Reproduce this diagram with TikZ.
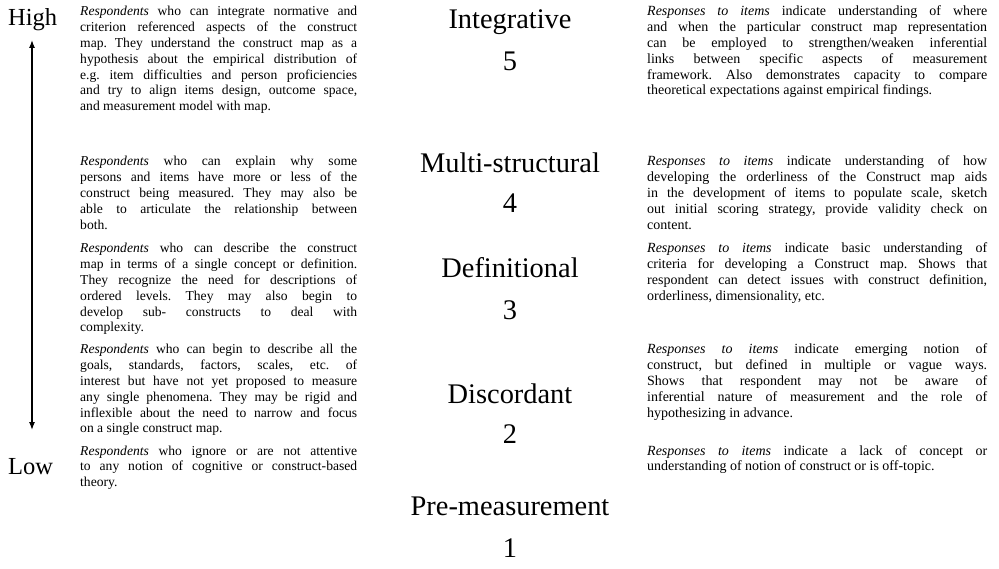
\documentclass[tikz,border=0pt]{standalone}
\usepackage{fontspec}
\setmainfont{Liberation Serif}
\usetikzlibrary{arrows.meta}
\hyphenpenalty=10000
\tolerance=10000
\frenchspacing

\begin{document}
\begin{tikzpicture}[
    x=1pt, y=-1pt,
    >={Latex[length=8pt,width=6pt]},
    scalelabel/.style={
        font=\fontsize{24.5}{28}\selectfont,
        anchor=base west,
        inner sep=0pt
    },
    levelname/.style={
        font=\fontsize{28.4}{32}\selectfont,
        anchor=base,
        inner sep=0pt
    },
    resptext/.style={
        anchor=base west,
        inner sep=0pt,
        text width=277pt,
        align=justify,
        font=\fontsize{13.6}{15.8}\selectfont
    },
    itemtext/.style={
        resptext,
        text width=340pt,
        font=\fontsize{14}{15.8}\selectfont
    },
    scalearrow/.style={
        <->,
        line width=1.2pt
    }
]
\useasboundingbox (0,0) rectangle (999,569);

% High / Low scale
\node[scalelabel] (high) at (8,26) {High};
\node[scalelabel] (low) at (8,474) {Low};
\coordinate (arrtop) at (32,40);
\coordinate (arrbot) at (32,430);
\draw[scalearrow] (arrbot) -- (arrtop);

% Respondent descriptions
\node[resptext] (resp5) at (80,16) {\emph{Respondents} who can integrate normative and \linebreak criterion referenced aspects of the construct \linebreak map. They understand the construct map as a \linebreak hypothesis about the empirical distribution of \linebreak e.g. item difficulties and person proficiencies \linebreak and try to align items design, outcome space, \linebreak and measurement model with map.};
\node[resptext] (resp4) at (80,166) {\emph{Respondents} who can explain why some \linebreak persons and items have more or less of the \linebreak construct being measured. They may also be \linebreak able to articulate the relationship between \linebreak both.};
\node[resptext] (resp3) at (80,253) {\emph{Respondents} who can describe the construct \linebreak map in terms of a single concept or definition. \linebreak They recognize the need for descriptions of \linebreak ordered levels. They may also begin to \linebreak develop sub- constructs to deal with \linebreak complexity.};
\node[resptext] (resp2) at (80,354) {\emph{Respondents} who can begin to describe all the \linebreak goals, standards, factors, scales, etc. of \linebreak interest but have not yet proposed to measure \linebreak any single phenomena. They may be rigid and \linebreak inflexible about the need to narrow and focus \linebreak on a single construct map.};
\node[resptext] (resp1) at (80,455) {\emph{Respondents} who ignore or are not attentive \linebreak to any notion of cognitive or construct-based \linebreak theory.};

% Levels
\node[levelname] (lvl5) at (510,29) {Integrative};
\node[levelname] (num5) at (510,71) {5};
\node[levelname] (lvl4) at (510,173) {Multi-structural};
\node[levelname] (num4) at (510,213) {4};
\node[levelname] (lvl3) at (510,278) {Definitional};
\node[levelname] (num3) at (510,320) {3};
\node[levelname] (lvl2) at (510,403) {Discordant};
\node[levelname] (num2) at (510,443) {2};
\node[levelname] (lvl1) at (510,515) {Pre-measurement};
\node[levelname] (num1) at (510,557) {1};

% Item responses
\node[itemtext] (item5) at (647,16) {\emph{Responses to items} indicate understanding of where \linebreak and when the particular construct map representation \linebreak can be employed to strengthen/weaken inferential \linebreak links between specific aspects of measurement \linebreak framework. Also demonstrates capacity to compare \linebreak theoretical expectations against empirical findings.};
\node[itemtext] (item4) at (647,166) {\emph{Responses to items} indicate understanding of how \linebreak developing the orderliness of the Construct map aids \linebreak in the development of items to populate scale, sketch \linebreak out initial scoring strategy, provide validity check on \linebreak content.};
\node[itemtext] (item3) at (647,253) {\emph{Responses to items} indicate basic understanding of \linebreak criteria for developing a Construct map. Shows that \linebreak respondent can detect issues with construct definition, \linebreak orderliness, dimensionality, etc.};
\node[itemtext] (item2) at (647,354) {\emph{Responses to items} indicate emerging notion of \linebreak construct, but defined in multiple or vague ways. \linebreak Shows that respondent may not be aware of \linebreak inferential nature of measurement and the role of \linebreak hypothesizing in advance.};
\node[itemtext] (item1) at (647,455) {\emph{Responses to items} indicate a lack of concept or \linebreak understanding of notion of construct or is off-topic.};

\end{tikzpicture}
\end{document}
